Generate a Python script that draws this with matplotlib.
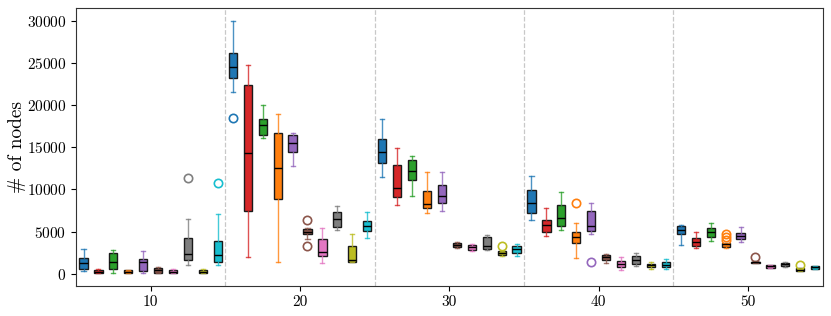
import matplotlib
matplotlib.use("Agg")
import matplotlib.pyplot as plt

# ── Values (one box per position) ─────────────────────────────────────
COLORS = ["#1f77b4", "#d62728", "#2ca02c", "#ff7f0e", "#9467bd",
          "#8c564b", "#e377c2", "#7f7f7f", "#bcbd22", "#17becf"]
POSITIONS = [p + 0.5 for p in range(5, 55)]
GROUP_SEPARATORS = [15, 25, 35, 45]
X_TICKS = [10, 20, 30, 40, 50]

WHISLO = [
    380, 80, 100, 100, 100, 100, 80, 1050, 80, 1050,
    21500, 2000, 16050, 1380, 12750, 4100, 1220, 5210, 1380, 4260,
    11450, 8090, 9160, 7220, 7420, 3000, 2720, 2760, 2090, 2050,
    6310, 4500, 5130, 1860, 4650, 1220, 470, 910, 560, 590,
    3350, 3000, 3910, 3100, 3750, 1250, 700, 800, 340, 560,
]
Q1 = [
    550, 120, 550, 120, 300, 120, 100, 1650, 100, 1380,
    23200, 7450, 16400, 8840, 14400, 4650, 2050, 5530, 1420, 5050,
    13100, 9040, 11130, 7780, 8440, 3110, 2810, 2920, 2170, 2400,
    7180, 4970, 5680, 3670, 5050, 1620, 790, 1100, 750, 750,
    4650, 3230, 4340, 3160, 4110, 1300, 710, 950, 360, 590,
]
MED = [
    1230, 250, 1450, 260, 1380, 420, 240, 2330, 240, 2280,
    24450, 14350, 17600, 12500, 15470, 4980, 2570, 6470, 1600, 5680,
    14480, 10150, 12230, 8250, 9200, 3350, 3110, 3280, 2480, 2960,
    8410, 5760, 6590, 4300, 5680, 1980, 1180, 1620, 980, 1070,
    5210, 3750, 4890, 3520, 4500, 1350, 870, 1100, 470, 750,
]
Q3 = [
    1920, 450, 2400, 450, 1740, 680, 390, 4230, 430, 3850,
    26150, 22370, 18310, 16650, 16420, 5320, 4110, 7300, 3310, 6240,
    15950, 12830, 13420, 9750, 10570, 3630, 3350, 4340, 2640, 3230,
    9950, 6350, 8170, 4930, 7420, 2210, 1540, 2050, 1180, 1380,
    5680, 4220, 5410, 3630, 4850, 1450, 1030, 1270, 670, 910,
]
WHISHI = [
    2930, 550, 2850, 500, 2650, 850, 560, 6450, 580, 7030,
    30000, 24790, 20050, 18980, 16650, 5450, 5370, 7970, 4650, 7300,
    18310, 14880, 14010, 12040, 12110, 3790, 3550, 4580, 2750, 3550,
    11600, 7780, 9630, 5960, 8440, 2330, 1980, 2400, 1380, 1690,
    5800, 4970, 6000, 3700, 5530, 1500, 1050, 1380, 700, 950,
]
FLIERS = {
    12.5: [11300], 14.5: [10750], 15.5: [18450], 20.5: [6350, 3330],
    33.5: [3300], 38.5: [8370], 39.5: [1420], 48.5: [4740, 4340, 3950],
    50.5: [1980], 53.5: [1070],
}

plt.rcParams["font.family"] = "serif"
plt.rcParams["font.serif"] = ["cmr10", "DejaVu Serif"]
plt.rcParams["mathtext.fontset"] = "cm"
plt.rcParams["axes.formatter.use_mathtext"] = True

fig, ax = plt.subplots(1, 1, figsize=(8.31, 3.16), dpi=100)
fig.subplots_adjust(left=0.0915, right=0.990, top=0.975, bottom=0.095)

for x in GROUP_SEPARATORS:
    ax.axvline(x, color="#c8c8c8", linestyle="--", linewidth=0.9, zorder=0)

for i, pos in enumerate(POSITIONS):
    color = COLORS[i % len(COLORS)]
    stats = [{
        "whislo": WHISLO[i], "q1": Q1[i], "med": MED[i],
        "q3": Q3[i], "whishi": WHISHI[i], "fliers": FLIERS.get(pos, []),
    }]
    ax.bxp(
        stats, positions=[pos], widths=0.55, patch_artist=True,
        boxprops=dict(facecolor=color, edgecolor="#1a1a1a", linewidth=1.0),
        medianprops=dict(color="black", linewidth=1.0),
        whiskerprops=dict(color=color, linewidth=1.0, alpha=0.8),
        capprops=dict(color=color, linewidth=1.0, alpha=0.8),
        flierprops=dict(marker="o", markerfacecolor="none",
                        markeredgecolor=color, markersize=6,
                        markeredgewidth=1.2),
        manage_ticks=False,
    )

ax.set_xlim(5, 55)
ax.set_ylim(-1450, 31500)
ax.set_xticks(X_TICKS)
ax.set_xticklabels([str(t) for t in X_TICKS])
ax.set_yticks(range(0, 30001, 5000))
ax.tick_params(labelsize=11)
ax.set_ylabel("# of nodes", fontsize=14, labelpad=0.5)
for spine in ax.spines.values():
    spine.set_color("#333333")

plt.savefig("out.png", dpi=100)
